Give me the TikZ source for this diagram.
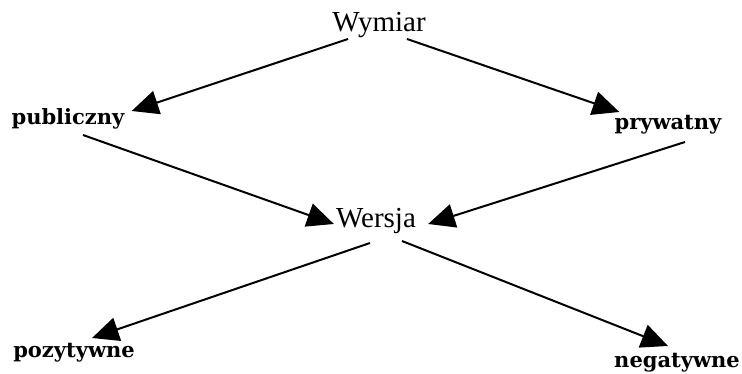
\documentclass[tikz,border=0pt]{standalone}
\usepackage{fontspec}
\setmainfont{Liberation Serif}
\newfontfamily\sideserif{DejaVu Serif}
\usetikzlibrary{arrows.meta,calc}
\begin{document}
\begin{tikzpicture}[x=.75pt, y=-.75pt,
            main/.style={inner sep=0, anchor=base, font=\fontsize{21.75}{24}\selectfont},
            side/.style={inner sep=0, anchor=base, font=\sideserif\bfseries\fontsize{15.75}{18}\selectfont},
            arr/.style={-{Triangle[length=20pt, width=18pt]}, line width=1.5pt}]
            \useasboundingbox (0,0) rectangle (742,374);
            \node [main] (wymiar) at (379,32) {Wymiar};
            \node [side] (publ) at (68,125) {publiczny};
            \node [side] (pryw) at (668,130) {prywatny};
            \node [main] (wersja) at (376,227) {Wersja};
            \node [side] (pozyt) at (74,357) {pozytywne};
            \node [side] (negat) at (677,367) {negatywne};
            \draw [arr] ($(wymiar.base)+(-31,7)$) -- ($(publ.base east)+(7,-14)$);
            \draw [arr] ($(wymiar.base)+(28,7)$) -- ($(pryw.base west)+(5,-18)$);
            \draw [arr] ($(publ.base)+(15,10)$) -- ($(wersja.base west)+(-2,-3)$);
            \draw [arr] ($(pryw.base)+(17,12)$) -- ($(wersja.base east)+(12,-3)$);
            \draw [arr] ($(wersja.base)+(-6,16)$) -- ($(pozyt.base)+(18,-19)$);
            \draw [arr] ($(wersja.base)+(26,14)$) -- ($(negat.base)+(-9,-21)$);
        \end{tikzpicture}
\end{document}
